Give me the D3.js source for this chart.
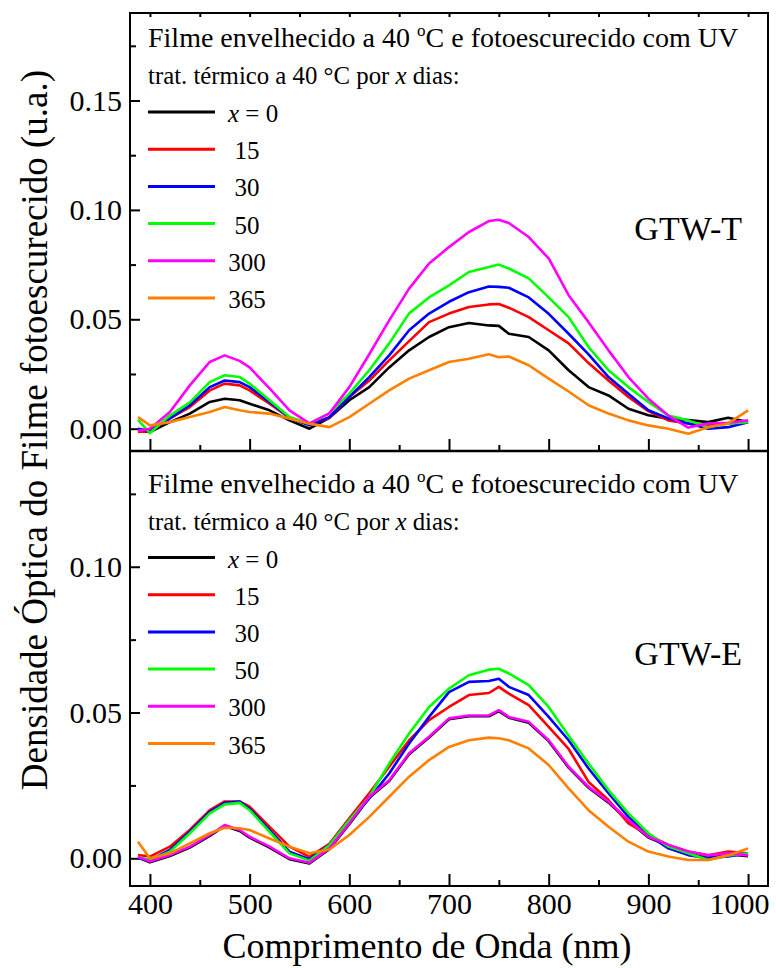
<!DOCTYPE html>
<html>
<head>
<meta charset="utf-8">
<script src="https://cdn.jsdelivr.net/npm/d3@7"></script>
<style>
  html, body { margin: 0; padding: 0; background: #fff; }
  svg { display: block; }
</style>
</head>
<body>
<svg id="chart" width="776" height="968"></svg>
<script>
// ---------------- data ----------------
const wavelength = [388, 400, 420, 440, 460, 475, 490, 500, 520, 540, 560, 580, 600, 620, 640, 660, 680, 700, 720, 740, 750, 760, 780, 800, 820, 840, 860, 880, 900, 920, 940, 960, 980, 1000];

const seriesNames = ["x = 0", "15", "30", "50", "300", "365"];
const seriesColors = ["#000000", "#ff0000", "#0000ff", "#00ff00", "#ff00ff", "#ff8000"];

// Panel GTW-T
const topX0   = [-0.001, -0.0015, 0.003, 0.0069, 0.0122, 0.0137, 0.013, 0.0114, 0.0084, 0.0038, 0.0, 0.005, 0.013, 0.019, 0.028, 0.0358, 0.0419, 0.0464, 0.0483, 0.0472, 0.047, 0.0434, 0.0419, 0.0358, 0.0267, 0.019, 0.0152, 0.0091, 0.0061, 0.0046, 0.004, 0.003, 0.005, 0.003];
const topX15  = [-0.0015, -0.001, 0.0047, 0.0099, 0.0175, 0.0206, 0.0198, 0.0175, 0.0114, 0.005, 0.0018, 0.005, 0.0145, 0.022, 0.0312, 0.040, 0.0487, 0.0526, 0.0556, 0.0568, 0.057, 0.0553, 0.051, 0.045, 0.039, 0.030, 0.022, 0.0145, 0.008, 0.0038, 0.0024, 0.0015, 0.0024, 0.003];
const topX30  = [0.0, -0.001, 0.0047, 0.0107, 0.019, 0.022, 0.0213, 0.019, 0.0122, 0.005, 0.0015, 0.0053, 0.0145, 0.0236, 0.0335, 0.045, 0.0526, 0.058, 0.0624, 0.065, 0.0648, 0.0644, 0.060, 0.0525, 0.0434, 0.034, 0.0236, 0.016, 0.0084, 0.0047, 0.0024, 0.0, 0.0007, 0.003];
const topX50  = [0.004, -0.002, 0.006, 0.012, 0.0213, 0.0244, 0.0236, 0.0206, 0.013, 0.0053, 0.0023, 0.007, 0.016, 0.0267, 0.039, 0.0527, 0.060, 0.0655, 0.0716, 0.0739, 0.075, 0.0732, 0.0687, 0.060, 0.051, 0.0373, 0.0267, 0.019, 0.0122, 0.006, 0.0038, 0.0007, 0.0024, 0.003];
const topX300 = [-0.001, 0.0, 0.0076, 0.0198, 0.0305, 0.0335, 0.031, 0.028, 0.0184, 0.0084, 0.0024, 0.007, 0.019, 0.034, 0.0495, 0.064, 0.0755, 0.083, 0.0899, 0.0949, 0.0955, 0.094, 0.0876, 0.0778, 0.061, 0.0487, 0.0358, 0.0236, 0.0137, 0.006, 0.0005, 0.0024, 0.0027, 0.0038];
const topX365 = [0.0053, 0.0015, 0.003, 0.0053, 0.0076, 0.0099, 0.0084, 0.0076, 0.0069, 0.0046, 0.0023, 0.0007, 0.0053, 0.0114, 0.0175, 0.0229, 0.0267, 0.0305, 0.032, 0.034, 0.0327, 0.033, 0.029, 0.0229, 0.017, 0.0107, 0.0069, 0.0038, 0.0015, 0.0, -0.0023, 0.0007, 0.0024, 0.0084];

// Panel GTW-E
const botX0   = [0.0003, -0.0014, 0.0008, 0.0037, 0.0077, 0.0111, 0.0094, 0.0071, 0.0037, -0.0003, -0.0018, 0.0031, 0.0117, 0.0208, 0.0265, 0.0357, 0.0414, 0.0477, 0.0487, 0.0487, 0.0505, 0.0482, 0.0465, 0.0402, 0.0311, 0.0242, 0.0191, 0.0128, 0.0071, 0.0043, 0.002, 0.0007, 0.0014, 0.0007];
const botX15  = [0.0011, 0.0006, 0.004, 0.0097, 0.0165, 0.0195, 0.0195, 0.0177, 0.0108, 0.004, 0.0005, 0.005, 0.0137, 0.0223, 0.0314, 0.0405, 0.0474, 0.0519, 0.056, 0.0567, 0.0588, 0.0565, 0.0525, 0.0451, 0.0375, 0.0262, 0.02, 0.012, 0.008, 0.0046, 0.0023, 0.001, 0.0023, 0.0017];
const botX30  = [0.0, -0.0006, 0.0029, 0.0091, 0.016, 0.019, 0.0195, 0.017, 0.0097, 0.0023, -0.0003, 0.0045, 0.0131, 0.0205, 0.0291, 0.0394, 0.0485, 0.057, 0.0605, 0.0608, 0.0616, 0.0588, 0.056, 0.0485, 0.0405, 0.0308, 0.0223, 0.0142, 0.008, 0.0034, 0.0011, 0.0, 0.0006, 0.0017];
const botX50  = [0.0005, -0.0006, 0.0023, 0.0086, 0.0154, 0.0185, 0.019, 0.0165, 0.0091, 0.0017, -0.0008, 0.0045, 0.0131, 0.0211, 0.0325, 0.0428, 0.0519, 0.0582, 0.0628, 0.0647, 0.065, 0.0634, 0.0594, 0.0519, 0.042, 0.0325, 0.0234, 0.0154, 0.0086, 0.004, 0.0017, -0.0006, 0.001, 0.0017];
const botX300 = [0.0005, -0.0011, 0.0011, 0.004, 0.008, 0.0114, 0.0097, 0.0074, 0.004, 0.0, -0.0015, 0.0034, 0.012, 0.0211, 0.0268, 0.036, 0.0417, 0.048, 0.049, 0.049, 0.0508, 0.0485, 0.0468, 0.0405, 0.0314, 0.0245, 0.0194, 0.0131, 0.0074, 0.0046, 0.0023, 0.001, 0.0017, 0.001];
const botX365 = [0.0057, 0.0, 0.0017, 0.0051, 0.0086, 0.0105, 0.0103, 0.0097, 0.0068, 0.004, 0.0017, 0.003, 0.008, 0.0142, 0.0211, 0.028, 0.0337, 0.0382, 0.0405, 0.0414, 0.0412, 0.0405, 0.0377, 0.032, 0.024, 0.0165, 0.0108, 0.0057, 0.0023, 0.0006, -0.0006, -0.0006, 0.001, 0.0034];

const xMajorTicks = [400, 500, 600, 700, 800, 900, 1000];
const xMinorTicks = [450, 550, 650, 750, 850, 950];
const yTopMajor = [0.00, 0.05, 0.10, 0.15];
const yTopMinor = [0.025, 0.075, 0.125, 0.175];
const yBotMajor = [0.00, 0.05, 0.10];
const yBotMinor = [0.025, 0.075, 0.125];

const xTitle = "Comprimento de Onda (nm)";
const yTitle = "Densidade Óptica do Filme fotoescurecido (u.a.)";

// ---------------- layout ----------------
const FONT = "Liberation Serif";
const L = 130, R = 768, T = 13, M = 451, B = 886;
const svg = d3.select("#chart");
svg.append("rect").attr("width", 776).attr("height", 968).attr("fill", "#fff");

const x = d3.scaleLinear().domain([380, 1020]).range([L, R]);
const yTop = d3.scaleLinear().domain([-0.0102, 0.19]).range([M, T]);
const yBot = d3.scaleLinear().domain([-0.0095, 0.1397]).range([B, M]);

const fmt = d3.format(".2f");

function styleAxis(g) {
  g.select(".domain").remove();
  g.selectAll("line").attr("stroke", "#000").attr("stroke-width", 2);
  g.selectAll("text").style("font-family", FONT).attr("fill", "#000");
}

// y axes
function yAxes(scale, major, minor) {
  svg.append("g").attr("transform", `translate(${L},0)`)
    .call(d3.axisLeft(scale).tickValues(major).tickFormat(fmt).tickSize(-10).tickPadding(8))
    .call(styleAxis)
    .call(g => g.selectAll("text").attr("font-size", 30));
  svg.append("g").attr("transform", `translate(${L},0)`)
    .call(d3.axisLeft(scale).tickValues(minor).tickFormat("").tickSize(-6))
    .call(styleAxis);
}
yAxes(yTop, yTopMajor, yTopMinor);
yAxes(yBot, yBotMajor, yBotMinor);

// x axes: top-panel bottom (inward ticks, no labels)
svg.append("g").attr("transform", `translate(0,${M})`)
  .call(d3.axisBottom(x).tickValues(xMajorTicks).tickFormat("").tickSize(-12))
  .call(styleAxis);
svg.append("g").attr("transform", `translate(0,${M})`)
  .call(d3.axisBottom(x).tickValues(xMinorTicks).tickFormat("").tickSize(-6))
  .call(styleAxis);
// bottom axis with labels
svg.append("g").attr("transform", `translate(0,${B})`)
  .call(d3.axisBottom(x).tickValues(xMajorTicks).tickFormat(d3.format("d")).tickSize(-12).tickPadding(7))
  .call(styleAxis)
  .call(g => g.selectAll("text").attr("font-size", 30)
    .attr("dx", d => d === 1000 ? -9 : 0));
svg.append("g").attr("transform", `translate(0,${B})`)
  .call(d3.axisBottom(x).tickValues(xMinorTicks).tickFormat("").tickSize(-6))
  .call(styleAxis);
// top border small ticks
svg.append("g").attr("transform", `translate(0,${T})`)
  .call(d3.axisTop(x).tickValues(xMajorTicks.concat(xMinorTicks)).tickFormat("").tickSize(-4))
  .call(styleAxis);

// ---------------- curves ----------------
function drawPanel(scale, arrays, clipId, y0, y1) {
  svg.append("clipPath").attr("id", clipId)
    .append("rect").attr("x", L).attr("y", y0).attr("width", R - L).attr("height", y1 - y0);
  const g = svg.append("g").attr("clip-path", `url(#${clipId})`);
  const line = d3.line().x((d, i) => x(wavelength[i])).y(d => scale(d));
  arrays.forEach((arr, k) => {
    g.append("path").datum(arr)
      .attr("d", line)
      .attr("fill", "none")
      .attr("stroke", seriesColors[k])
      .attr("stroke-width", 2.6)
      .attr("stroke-linejoin", "round");
  });
}
drawPanel(yTop, [topX0, topX15, topX30, topX50, topX300, topX365], "clipTop", T, M);
drawPanel(yBot, [botX0, botX15, botX30, botX50, botX300, botX365], "clipBot", M, B);

// ---------------- frame ----------------
svg.append("rect").attr("x", L).attr("y", T).attr("width", R - L).attr("height", B - T)
  .attr("fill", "none").attr("stroke", "#000").attr("stroke-width", 2);
svg.append("line").attr("x1", L).attr("x2", R).attr("y1", M).attr("y2", M)
  .attr("stroke", "#000").attr("stroke-width", 2.5);

// ---------------- legends ----------------
function legend(offsetY, label, labelY) {
  const g = svg.append("g").attr("transform", `translate(0,${offsetY})`);
  const t1 = g.append("text").attr("x", 148).attr("y", 47).attr("font-size", 28);
  t1.append("tspan").text("Filme envelhecido a 40 ");
  t1.append("tspan").attr("dy", -11).attr("font-size", 17).text("o");
  t1.append("tspan").attr("dy", 11).text("C e fotoescurecido com UV");
  const t2 = g.append("text").attr("x", 148).attr("y", 84).attr("font-size", 24.8);
  t2.append("tspan").text("trat. térmico a 40 °C por ");
  t2.append("tspan").attr("font-style", "italic").text("x");
  t2.append("tspan").text(" dias:");
  seriesNames.forEach((name, i) => {
    const ly = 112 + i * 37.2;
    g.append("line").attr("x1", 148).attr("x2", 215).attr("y1", ly).attr("y2", ly)
      .attr("stroke", seriesColors[i]).attr("stroke-width", 3);
    if (i === 0) {
      const t = g.append("text").attr("x", 228).attr("y", ly + 10).attr("font-size", 25);
      t.append("tspan").attr("font-style", "italic").text("x");
      t.append("tspan").text(" = 0");
    } else {
      g.append("text").attr("x", 247).attr("y", ly + 10).attr("font-size", 25)
        .attr("text-anchor", "middle").text(name);
    }
  });
  svg.append("text").attr("x", 742).attr("y", labelY).attr("font-size", 34)
    .attr("text-anchor", "end").text(label);
}
legend(0, "GTW-T", 240);
legend(445.5, "GTW-E", 665);

// ---------------- axis titles ----------------
svg.append("text").attr("x", 427).attr("y", 958).attr("font-size", 36)
  .attr("text-anchor", "middle").text(xTitle);
svg.append("text").attr("transform", "translate(47,430) rotate(-90)")
  .attr("font-size", 37).attr("text-anchor", "middle").text(yTitle);

svg.selectAll("text").style("font-family", FONT).attr("fill", "#000");
</script>
</body>
</html>
